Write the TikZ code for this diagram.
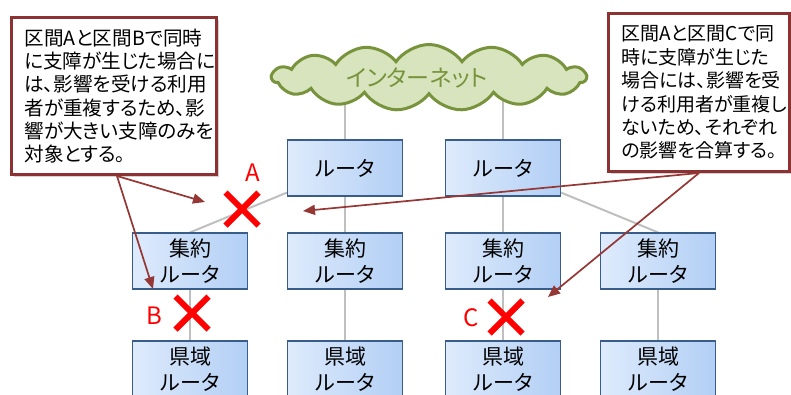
\documentclass[tikz,border=0pt]{standalone}
\usepackage{fontspec}
\newfontfamily\jp{Noto Sans CJK JP}[RawFeature=+palt]
\usetikzlibrary{shapes.symbols,shapes.misc,arrows.meta,backgrounds,shadows}
\definecolor{netline}{RGB}{191,191,191}
\definecolor{boxedge}{RGB}{56,93,138}
\definecolor{boxlight}{RGB}{222,235,252}
\definecolor{boxdark}{RGB}{178,207,245}
\definecolor{cloudfill}{RGB}{215,228,189}
\definecolor{cloudedge}{RGB}{119,147,60}
\definecolor{calloutedge}{RGB}{140,50,50}
\definecolor{arrowred}{RGB}{149,55,53}
\begin{document}
\begin{tikzpicture}[x=1pt,y=-1pt,
  router/.style={draw=boxedge, line width=1.2pt, left color=boxlight, right color=boxdark,
    minimum width=115pt, minimum height=56pt, inner sep=0pt, align=center,
    font=\jp\fontsize{21}{26}\selectfont},
  link/.style={draw=netline, line width=2pt},
  note/.style={draw=calloutedge, line width=3pt, fill=white, align=left,
    inner xsep=13pt, inner ysep=0pt, font=\jp\fontsize{19.6}{23.2}\selectfont,
    drop shadow={shadow xshift=2pt, shadow yshift=-2pt, opacity=0.35}},
  pointer/.style={draw=arrowred, line width=1.7pt, -{Triangle[length=12pt,width=10pt]}},
  fail/.style={cross out, draw=red, line width=6pt, minimum size=27pt, inner sep=0pt},
  tag/.style={text=red, font=\jp\fontsize{24}{24}\selectfont, inner sep=0pt}]
\useasboundingbox (0,0) rectangle (791,394);
\clip (0,0) rectangle (791,394);

\node[cloud, cloud puffs=15, cloud puff arc=110, cloud ignores aspect, draw=cloudedge,
  fill=cloudfill, line width=3pt, minimum width=314pt, minimum height=66pt,
  text=cloudedge, font=\jp\fontsize{23}{23}\selectfont] (net) at (429,77.5) {\hspace*{-24pt}インターネット};

\node[router] (r1) at (345,168) {ルータ};
\node[router] (r2) at (503,168) {ルータ};
\node[router] (a1) at (190,261) {集約\\ルータ};
\node[router] (a2) at (345,261) {集約\\ルータ};
\node[router] (a3) at (503,261) {集約\\ルータ};
\node[router] (a4) at (658,261) {集約\\ルータ};
\node[router] (p1) at (190,369) {県域\\ルータ};
\node[router] (p2) at (345,369) {県域\\ルータ};
\node[router] (p3) at (503,369) {県域\\ルータ};
\node[router] (p4) at (658,369) {県域\\ルータ};

\begin{scope}[on background layer]
\draw[link] (net.center -| r1.north) -- (r1.north);
\draw[link] (net.center -| r2.north) -- (r2.north);
\draw[link] ([yshift=4pt]r1.south west) -- (a1.north);
\draw[link] (r1) -- (a2);
\draw[link] (r2) -- (a3);
\draw[link] ([yshift=4pt]r2.south east) -- (a4.north);
\draw[link] (a1) -- (p1);
\draw[link] (a2) -- (p2);
\draw[link] (a3) -- (p3);
\draw[link] (a4) -- (p4);
\end{scope}

\node[fail] (xA) at (242,209) {};
\node[fail] (xB) at (192,313) {};
\node[fail] (xC) at (506,317) {};
\node[tag] (lA) at (253,173) {A};
\node[tag] (lB) at (154,316) {B};
\node[tag] (lC) at (471,318) {C};

\node[note, text width=179pt, minimum height=157pt] (noteL) at (114,96)
  {区間Aと区間Bで同時\\に支障が生じた場合に\\は、影響を受ける利用\\者が重複するため、影\\響が大きい支障のみを\\対象とする。};
\node[note, text width=155pt, minimum height=158pt, font=\jp\fontsize{19}{23.4}\selectfont] (noteR) at (699,92.5)
  {区間Aと区間Cで同\\時に支障が生じた\\場合には、影響を受\\ける利用者が重複し\\ないため、それぞれ\\の影響を合算する。};

\coordinate (tipA) at (205,202);
\coordinate (tipB) at (153,289);
\coordinate (tipA2) at (303,211);
\coordinate (tipC) at (548,297);
\draw[pointer] ([xshift=3pt]noteL.south) -- (tipA);
\draw[pointer] ([xshift=3pt]noteL.south) -- (tipB);
\draw[pointer] (noteR.south) -- (tipA2);
\draw[pointer] (noteR.south) -- (tipC);
\end{tikzpicture}
\end{document}
